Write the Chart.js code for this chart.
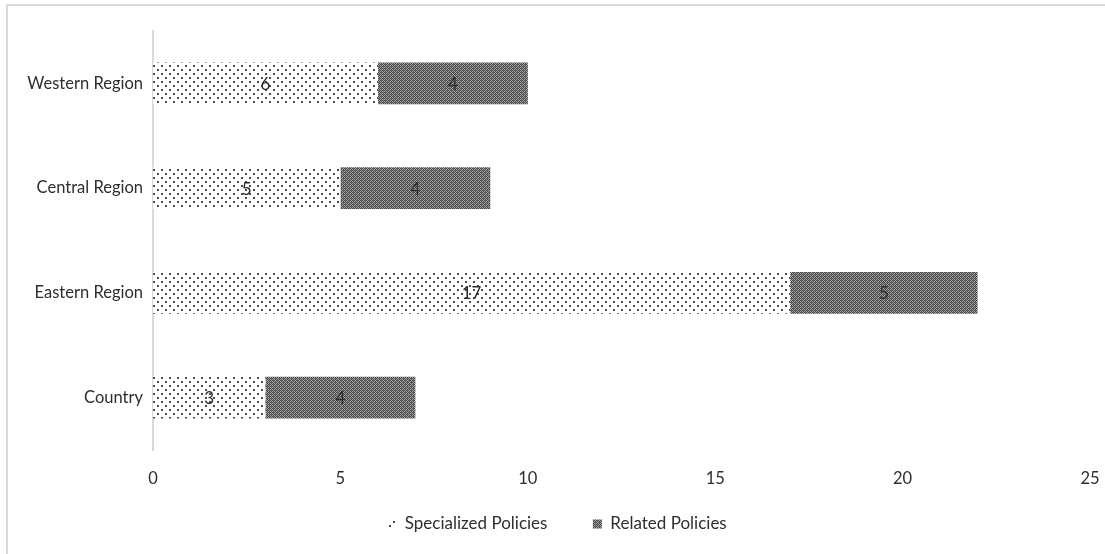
<!DOCTYPE html>
<html>
<head>
<meta charset="utf-8">
<script src="https://cdn.jsdelivr.net/npm/chart.js@4.4.1/dist/chart.umd.min.js"></script>
<style>
  html, body { margin: 0; padding: 0; background: #fff; }
  #wrap { position: relative; width: 1105px; height: 554px; overflow: hidden; }
  #frame { position: absolute; left: 6px; top: 4px; right: -10px; bottom: -10px;
           border-top: 2px solid #dadada; border-left: 2px solid #dadada; pointer-events: none; }
  canvas { position: absolute; left: 0; top: 0; }
</style>
</head>
<body>
<div id="wrap">
  <canvas id="chart" width="1105" height="554"></canvas>
  <div id="frame"></div>
</div>
<script>
// Regions, listed top to bottom
const categories = ['Western Region', 'Central Region', 'Eastern Region', 'Country'];
// Number of policies per region
const specializedPolicies = [6, 5, 17, 3];
const relatedPolicies = [4, 4, 5, 4];
const xTicks = [0, 5, 10, 15, 20, 25];

const FONT = "Lato, 'Open Sans', 'Liberation Sans', sans-serif";
const TEXT = '#2e2e2e';
const AXIS_SIZE = 16.5;
const LEGEND_SIZE = 17;

// Sparse staggered dot fill
function dotPattern() {
  const t = document.createElement('canvas');
  t.width = 8; t.height = 8;
  const c = t.getContext('2d');
  c.fillStyle = '#ffffff';
  c.fillRect(0, 0, 8, 8);
  c.fillStyle = '#4a4a4a';
  c.fillRect(1, 1, 2, 2);
  c.fillRect(5, 5, 2, 2);
  return c.createPattern(t, 'repeat');
}

// Fine dark checker fill
function checkerPattern() {
  const t = document.createElement('canvas');
  t.width = 4; t.height = 4;
  const c = t.getContext('2d');
  c.fillStyle = '#a4a4a4';
  c.fillRect(0, 0, 4, 4);
  c.fillStyle = '#4a4a4a';
  c.fillRect(0, 0, 1, 1); c.fillRect(2, 0, 1, 1);
  c.fillRect(1, 1, 1, 1); c.fillRect(3, 1, 1, 1);
  c.fillRect(0, 2, 1, 1); c.fillRect(2, 2, 1, 1);
  c.fillRect(1, 3, 1, 1); c.fillRect(3, 3, 1, 1);
  c.fillStyle = '#6a6a6a';
  c.fillRect(1, 0, 1, 1); c.fillRect(3, 2, 1, 1);
  return c.createPattern(t, 'repeat');
}

// Value text centred inside each bar segment
const segmentLabels = {
  id: 'segmentLabels',
  afterDatasetsDraw(chart) {
    const ctx = chart.ctx;
    ctx.save();
    ctx.font = '17px ' + FONT;
    ctx.fillStyle = '#2a2a2a';
    ctx.textAlign = 'center';
    ctx.textBaseline = 'middle';
    chart.data.datasets.forEach((ds, i) => {
      chart.getDatasetMeta(i).data.forEach((bar, j) => {
        const p = bar.getProps(['x', 'y', 'base'], true);
        ctx.fillText(String(ds.data[j]), (p.x + p.base) / 2, p.y + 1);
      });
    });
    ctx.restore();
  }
};

new Chart(document.getElementById('chart'), {
  type: 'bar',
  data: {
    labels: categories,
    datasets: [
      { label: 'Specialized Policies', data: specializedPolicies, backgroundColor: dotPattern(), borderWidth: 0 },
      { label: 'Related Policies', data: relatedPolicies, backgroundColor: checkerPattern(), borderWidth: 0 }
    ]
  },
  options: {
    indexAxis: 'y',
    responsive: false,
    animation: false,
    devicePixelRatio: 1,
    layout: { padding: { top: 31, right: 15, bottom: 11.5, left: 24 } },
    datasets: { bar: { barPercentage: 0.4, categoryPercentage: 1 } },
    scales: {
      x: {
        stacked: true,
        min: 0, max: 25,
        afterBuildTicks(scale) { scale.ticks = xTicks.map(v => ({ value: v })); },
        grid: { display: false, drawTicks: false },
        border: { display: false },
        ticks: { color: TEXT, font: { family: FONT, size: AXIS_SIZE }, padding: 19, maxRotation: 0 },
        afterFit(scale) { scale.height = 37.5; scale.paddingLeft = 0; scale.paddingRight = 0; }
      },
      y: {
        stacked: true,
        grid: { display: true, drawOnChartArea: false, drawTicks: false },
        border: { display: true, color: '#d9d9d9', width: 2 },
        ticks: { color: TEXT, font: { family: FONT, size: AXIS_SIZE }, padding: 10 },
        afterFit(scale) { scale.width = 129; }
      }
    },
    plugins: {
      legend: {
        position: 'bottom',
        labels: {
          color: TEXT,
          font: { family: FONT, size: LEGEND_SIZE },
          boxWidth: 9, boxHeight: 9, padding: 28,
          generateLabels(chart) {
            const items = Chart.defaults.plugins.legend.labels.generateLabels(chart);
            // widen the gap after the first entry
            items[0].text += '\u00A0\u00A0\u00A0\u00A0';
            items.forEach(it => { it.lineWidth = 0; });
            return items;
          }
        }
      },
      tooltip: { enabled: false }
    }
  },
  plugins: [segmentLabels]
});
</script>
</body>
</html>
